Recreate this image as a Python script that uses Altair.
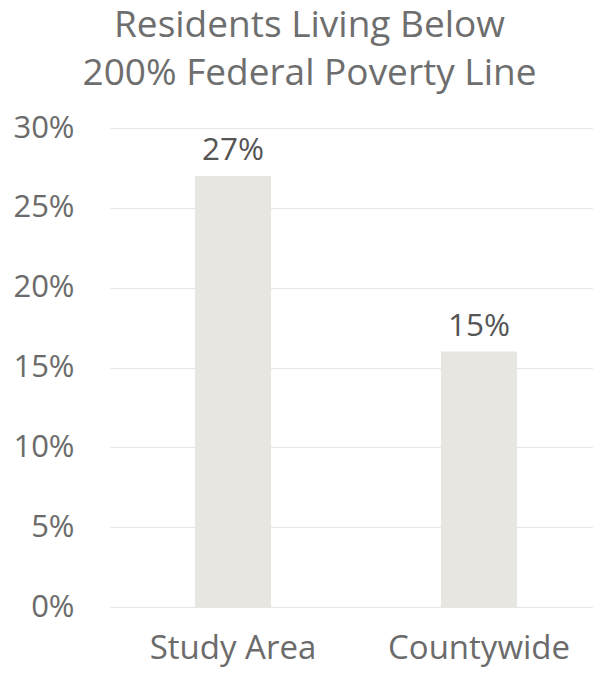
import altair as alt
import pandas as pd

categories = ["Study Area", "Countywide"]
values = [0.27, 0.16]
labels = ["27%", "15%"]

df = pd.DataFrame({"cat": categories, "val": values, "lab": labels})

FONT = "Open Sans"

x = alt.X("cat:N", sort=categories, title=None,
          scale=alt.Scale(paddingInner=0.691, paddingOuter=0.3272, align=0.528),
          axis=alt.Axis(labelAngle=0, labelFontSize=33, labelColor="#6b6b6b",
                        labelFont=FONT, labelPadding=51, labelBaseline="alphabetic",
                        labelLimit=400, ticks=False,
                        domain=True, domainColor="#e6e6e6", grid=False))
y = alt.Y("val:Q", title=None,
          scale=alt.Scale(domain=[0, 0.3], nice=False),
          axis=alt.Axis(format=".0%", values=[0, 0.05, 0.1, 0.15, 0.2, 0.25, 0.3],
                        labelFontSize=31, labelColor="#6b6b6b", labelFont=FONT,
                        labelPadding=36, ticks=False, domain=False,
                        gridColor="#e6e6e6", gridWidth=1))

bars = alt.Chart(df).mark_bar(color="#E8E6E0").encode(x=x, y=y)
text = alt.Chart(df).mark_text(fontSize=31.5, color="#555555", font=FONT,
                               baseline="alphabetic", dy=-16).encode(
    x=alt.X("cat:N", sort=categories), y="val:Q", text="lab:N")

chart = (bars + text).properties(
    width=483, height=479,
    autosize=alt.AutoSizeParams(type="none"),
    padding={"left": 102, "top": 120, "right": 0, "bottom": 60},
    title=alt.TitleParams(
        text=["Residents Living Below", "200% Federal Poverty Line"],
        fontSize=37, font=FONT, fontWeight="normal", color="#6e6e6e",
        lineHeight=48, anchor="middle", dx=-42, offset=19),
).configure_view(stroke=None)

chart.save("out.html", embed_options={"renderer": "svg", "actions": False})
